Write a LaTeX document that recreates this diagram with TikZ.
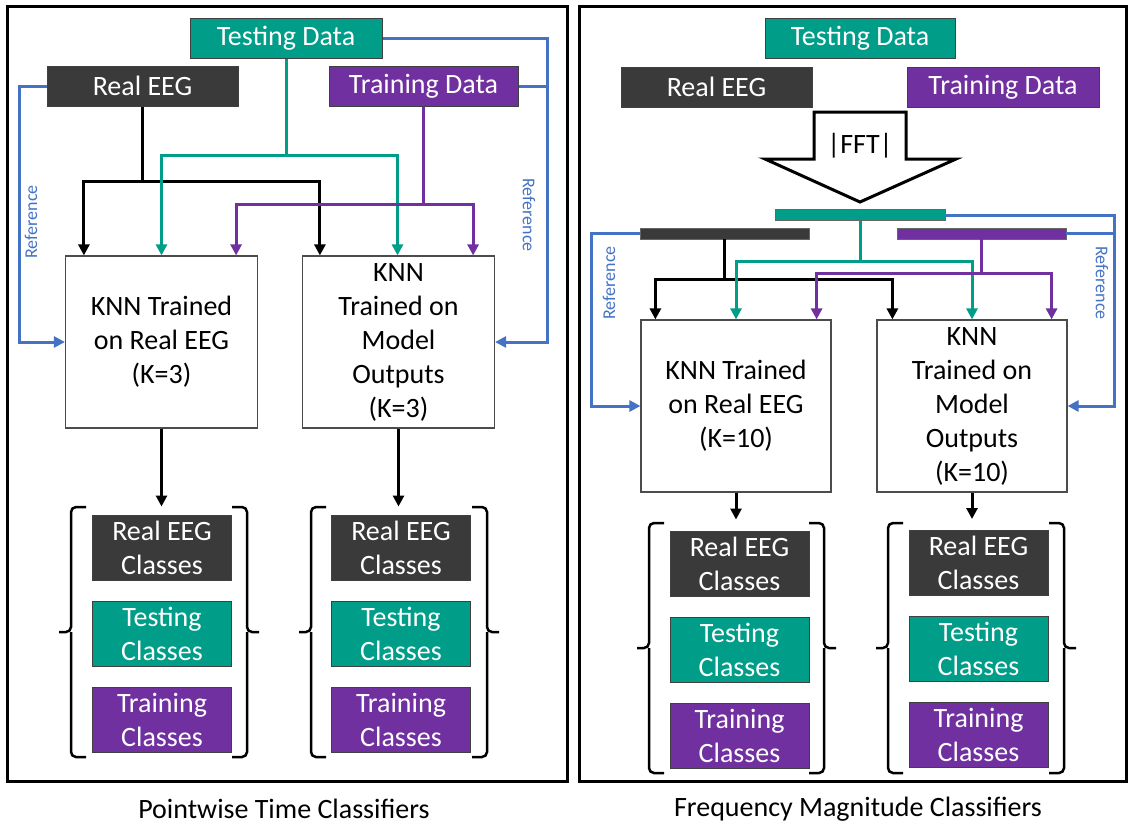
\documentclass[tikz,border=0pt]{standalone}
\usepackage{fontspec}
\setmainfont{Carlito}
\usepackage{tikz}
\usetikzlibrary{arrows.meta, positioning}
\definecolor{tealdata}{RGB}{0,158,136}
\definecolor{purpledata}{RGB}{112,48,160}
\definecolor{darkdata}{RGB}{58,58,58}
\definecolor{refblue}{RGB}{68,114,196}
\newcommand{\boxfont}{\fontsize{28}{34}\selectfont}
\newcommand{\lblfont}{\fontsize{18}{20}\selectfont}
\tikzset{datablock/.style={rectangle,draw=black!75,line width=1pt,minimum height=40pt,inner sep=0pt,text=white,font=\boxfont},
         knnblock/.style={rectangle,draw=black!70,line width=1.2pt,fill=white,minimum width=192pt,minimum height=172pt,align=center,inner sep=0pt,font=\boxfont},
         classblock/.style={rectangle,draw=black!75,line width=1pt,minimum width=139pt,minimum height=65pt,align=center,inner sep=0pt,text=white,font=\boxfont},
         bar/.style={rectangle,draw=black!60,line width=0.8pt,minimum height=11pt,inner sep=0pt},
         frame/.style={draw,line width=3pt},
         stem/.style={line width=3pt},
         feed/.style={line width=3pt,-{Triangle[length=11pt,width=11pt]}},
         refline/.style={draw=refblue,line width=3pt,-{Triangle[length=11pt,width=11pt]}},
         refplain/.style={draw=refblue,line width=3pt},
         reflabel/.style={text=refblue,font=\lblfont,inner sep=0pt},
         brace/.style={line width=2.5pt,rounded corners=5pt},
         fftarrow/.style={draw,line width=3pt,fill=white,line join=miter},
         caption/.style={font=\boxfont,inner sep=0pt}}

\begin{document}
\begin{tikzpicture}[x=1pt,y=-1pt]
    \useasboundingbox (0,0) rectangle (1129,825);
    \draw[frame] (7,6) rectangle (567,781);
    \draw[frame] (579,6) rectangle (1126,781);

    % pointwise time classifiers
    \node (tdata1) [datablock, fill=tealdata, minimum width=192pt] at (286,38) {Testing Data};
    \node (reeg1) [datablock, fill=darkdata, minimum width=191pt] at (142.5,86) {Real EEG};
    \node (trdata1) [datablock, fill=purpledata, minimum width=189pt] at (423.5,86) {Training Data};
    \node (knn1) [knnblock] at (161.5,342) {KNN Trained\\on Real EEG\\(K=3)};
    \node (knn2) [knnblock] at (398.5,342) {KNN\\Trained on\\Model\\Outputs\\(K=3)};
    \node (cls1a) [classblock, fill=darkdata] at (162,547.5) {Real EEG\\Classes};
    \node (cls1b) [classblock, fill=tealdata, below=20pt of cls1a] {Testing\\Classes};
    \node (cls1c) [classblock, fill=purpledata, below=20pt of cls1b] {Training\\Classes};
    \node (cls2a) [classblock, fill=darkdata] at (401,547.5) {Real EEG\\Classes};
    \node (cls2b) [classblock, fill=tealdata, below=20pt of cls2a] {Testing\\Classes};
    \node (cls2c) [classblock, fill=purpledata, below=20pt of cls2b] {Training\\Classes};
    \node (ref1) [reflabel, rotate=90] at (31,222) {Reference};
    \node (ref2) [reflabel, rotate=-90] at (529,215) {Reference};
    \node (cap1) [caption] at (284,809) {Pointwise Time Classifiers};

    \coordinate (bjoin1) at (142.5,181);
    \coordinate (tjoin1) at (286,155);
    \coordinate (pjoin1) at (423.5,204);
    \draw[stem] (reeg1) -- (bjoin1);
    \draw[feed] (bjoin1) -| ([xshift=19pt]knn1.north west);
    \draw[feed] (bjoin1) -| ([xshift=18pt]knn2.north west);
    \draw[stem, tealdata] (tdata1) -- (tjoin1);
    \draw[feed, tealdata] (tjoin1) -| (knn1.north);
    \draw[feed, tealdata] (tjoin1) -| ([xshift=-1pt]knn2.north);
    \draw[stem, purpledata] (trdata1) -- (pjoin1);
    \draw[feed, purpledata] (pjoin1) -| ([xshift=-22pt]knn1.north east);
    \draw[feed, purpledata] (pjoin1) -| ([xshift=-22pt]knn2.north east);
    \draw[refline] (reeg1.west) -- ++(-27,0) |- (knn1.west);
    \draw[refline] (tdata1.east) -- ++(165,0) coordinate (rjoin1) |- (knn2.east);
    \draw[refplain] (trdata1.east) -- (trdata1.east -| rjoin1);
    \draw[feed, shorten >=8pt] (knn1.south) -- (knn1.south |- cls1a.north);
    \draw[feed, shorten >=8pt] (knn2.south) -- (knn2.south |- cls2a.north);

    % frequency magnitude classifiers
    \node (tdata2) [datablock, fill=tealdata, minimum width=190pt] at (860,38) {Testing Data};
    \node (reeg2) [datablock, fill=darkdata, minimum width=191pt] at (716.5,87) {Real EEG};
    \node (trdata2) [datablock, fill=purpledata, minimum width=192pt] at (1003,87) {Training Data};
    \draw[fftarrow] (814,112) -- (906,112) -- (906,159) -- (956,159) -- (860,202) -- (765,159) -- (814,159) -- cycle;
    \node (fft) [font=\boxfont] at (860,146) {|FFT|};
    \node (tbar) [bar, fill=tealdata, minimum width=170pt] at (860,215) {};
    \node (bbar) [bar, fill=darkdata, minimum width=169pt] at (724.5,233.5) {};
    \node (pbar) [bar, fill=purpledata, minimum width=169pt] at (981.5,233.5) {};
    \node (knn3) [knnblock, minimum width=190pt] at (736,406) {KNN Trained\\on Real EEG\\(K=10)};
    \node (knn4) [knnblock, minimum width=190pt] at (972,406) {KNN\\Trained on\\Model\\Outputs\\(K=10)};
    \node (cls3a) [classblock, fill=darkdata] at (739.5,563.5) {Real EEG\\Classes};
    \node (cls3b) [classblock, fill=tealdata, below=20pt of cls3a] {Testing\\Classes};
    \node (cls3c) [classblock, fill=purpledata, below=20pt of cls3b] {Training\\Classes};
    \node (cls4a) [classblock, fill=darkdata] at (978.5,563) {Real EEG\\Classes};
    \node (cls4b) [classblock, fill=tealdata, below=20pt of cls4a] {Testing\\Classes};
    \node (cls4c) [classblock, fill=purpledata, below=20pt of cls4b] {Training\\Classes};
    \node (ref3) [reflabel, rotate=90] at (609,283) {Reference};
    \node (ref4) [reflabel, rotate=-90] at (1102,283) {Reference};
    \node (cap2) [caption] at (858,809) {Frequency Magnitude Classifiers};

    \coordinate (bjoin2) at (724.5,279);
    \coordinate (tjoin2) at (860,261);
    \coordinate (pjoin2) at (981.5,273);
    \draw[stem] (bbar) -- (bjoin2);
    \draw[feed] (bjoin2) -| ([xshift=15pt]knn3.north west);
    \draw[feed] (bjoin2) -| ([xshift=16pt]knn4.north west);
    \draw[stem, tealdata] (tbar) -- (tjoin2);
    \draw[feed, tealdata] (tjoin2) -| (knn3.north);
    \draw[feed, tealdata] (tjoin2) -| (knn4.north);
    \draw[stem, purpledata] (pbar) -- (pjoin2);
    \draw[feed, purpledata] (pjoin2) -| ([xshift=-15pt]knn3.north east);
    \draw[feed, purpledata] (pjoin2) -| ([xshift=-16pt]knn4.north east);
    \draw[refline] (bbar.west) -- ++(-48,0) |- (knn3.west);
    \draw[refline] (tbar.east) -- ++(169,0) coordinate (rjoin2) |- (knn4.east);
    \draw[refplain] (pbar.east) -- (pbar.east -| rjoin2);
    \draw[feed, shorten >=11pt] (knn3.south) -- (knn3.south |- cls3a.north);
    \draw[feed, shorten >=11pt] (knn4.south) -- (knn4.south |- cls4a.north);

    % brackets round the class boxes
    \foreach \l/\r/\t/\b/\m in {71/247/507/757/632, 311/487/507/757/632, 649/824/523/773/648, 888/1064/523/773/648}{
      \draw[brace] ({\l+15},\t) -| (\l,\m) -- ({\l-12},\m);
      \draw[brace] ({\l+15},\b) -| (\l,\m);
      \draw[brace] ({\r-15},\t) -| (\r,\m) -- ({\r+12},\m);
      \draw[brace] ({\r-15},\b) -| (\r,\m);
    }
\end{tikzpicture}
\end{document}
